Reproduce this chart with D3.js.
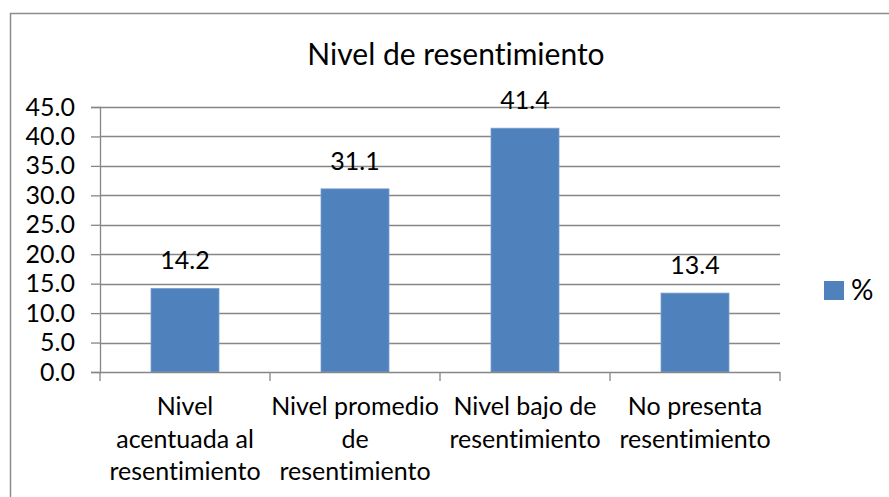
<!DOCTYPE html>
<html><head><meta charset="utf-8">
<script src="https://cdn.jsdelivr.net/npm/d3@7"></script>
<style>html,body{margin:0;padding:0;background:#fff;overflow:hidden}
text{font-variant-ligatures:none;font-feature-settings:"liga" 0,"clig" 0}</style>
</head><body>
<svg id="chart" width="889" height="497"></svg>
<script>
const categories = [
  ["Nivel", "acentuada al", "resentimiento"],
  ["Nivel promedio", "de", "resentimiento"],
  ["Nivel bajo de", "resentimiento"],
  ["No presenta", "resentimiento"]
];
const values = [14.2, 31.1, 41.4, 13.4];
const yTicks = [0, 5, 10, 15, 20, 25, 30, 35, 40, 45];
const title = "Nivel de resentimiento";
const seriesName = "%";

const FONT = "Lato, 'Open Sans', sans-serif";
const svg = d3.select("#chart");
const gridColor = "#868686";
const barColor = "#4F81BD";

// outer border
svg.append("rect").attr("x", 10.5).attr("y", 13.5).attr("width", 900).attr("height", 500)
  .attr("fill", "#fff").attr("stroke", "#8c8c8c").attr("stroke-width", 1.5);

const x = d3.scaleBand().domain(d3.range(values.length)).range([100, 780])
  .paddingInner(0.6).paddingOuter(0.3);
const y = d3.scaleLinear().domain([0, 45]).range([372, 107]);

// gridlines
svg.append("g").selectAll("line").data(yTicks.filter(t => t > 0)).join("line")
  .attr("x1", 100).attr("x2", 780)
  .attr("y1", d => Math.round(y(d)) + 0.5).attr("y2", d => Math.round(y(d)) + 0.5)
  .attr("stroke", gridColor).attr("stroke-width", 1.3);

// bars
svg.append("g").selectAll("rect").data(values).join("rect")
  .attr("x", (d, i) => x(i)).attr("width", x.bandwidth())
  .attr("y", d => y(d)).attr("height", d => y(0) - y(d))
  .attr("fill", barColor).attr("stroke", "#7a9fd0").attr("stroke-width", 0.8);

// y axis
const yAxis = d3.axisLeft(y).tickValues(yTicks).tickFormat(d3.format(".1f")).tickSize(9).tickPadding(16);
const gy = svg.append("g").attr("transform", "translate(100,0)").call(yAxis);
gy.select(".domain").attr("stroke", gridColor).attr("stroke-width", 1.3);
gy.selectAll(".tick line").attr("stroke", gridColor).attr("stroke-width", 1.3);
gy.selectAll(".tick text").attr("font-family", FONT).attr("font-size", 25).attr("fill", "#000");

// x axis with ticks at band boundaries
const xBounds = d3.range(values.length + 1).map(i => 100 + i * x.step());
const gx = svg.append("g");
gx.append("line").attr("x1", 100).attr("x2", 780).attr("y1", y(0) + 0.5).attr("y2", y(0) + 0.5)
  .attr("stroke", gridColor).attr("stroke-width", 1.3);
gx.selectAll("line.t").data(xBounds).join("line").attr("class", "t")
  .attr("x1", d => d).attr("x2", d => d).attr("y1", y(0)).attr("y2", y(0) + 9)
  .attr("stroke", gridColor).attr("stroke-width", 1.3);

// category labels
const cl = svg.append("g").selectAll("text").data(categories).join("text")
  .attr("x", (d, i) => x(i) + x.bandwidth() / 2).attr("y", 415)
  .attr("text-anchor", "middle").attr("font-family", FONT).attr("font-size", 25).attr("fill", "#000");
cl.selectAll("tspan").data(d => d).join("tspan")
  .attr("x", function () { return this.parentNode.getAttribute("x"); })
  .attr("dy", (d, i) => i === 0 ? 0 : 32.5).text(d => d);

// data labels
svg.append("g").selectAll("text").data(values).join("text")
  .attr("x", (d, i) => x(i) + x.bandwidth() / 2).attr("y", d => y(d) - 19)
  .attr("text-anchor", "middle").attr("font-family", FONT).attr("font-size", 25).attr("fill", "#000")
  .text(d => d3.format(".1f")(d));

// title
svg.append("text").attr("x", 456).attr("y", 65).attr("text-anchor", "middle")
  .attr("font-family", FONT).attr("font-size", 30).attr("fill", "#000").text(title);

// legend
svg.append("rect").attr("x", 824).attr("y", 281).attr("width", 20).attr("height", 19).attr("fill", barColor);
svg.append("text").attr("x", 851).attr("y", 300).attr("font-family", FONT).attr("font-size", 28)
  .attr("fill", "#000").text(seriesName);
</script>
</body></html>
